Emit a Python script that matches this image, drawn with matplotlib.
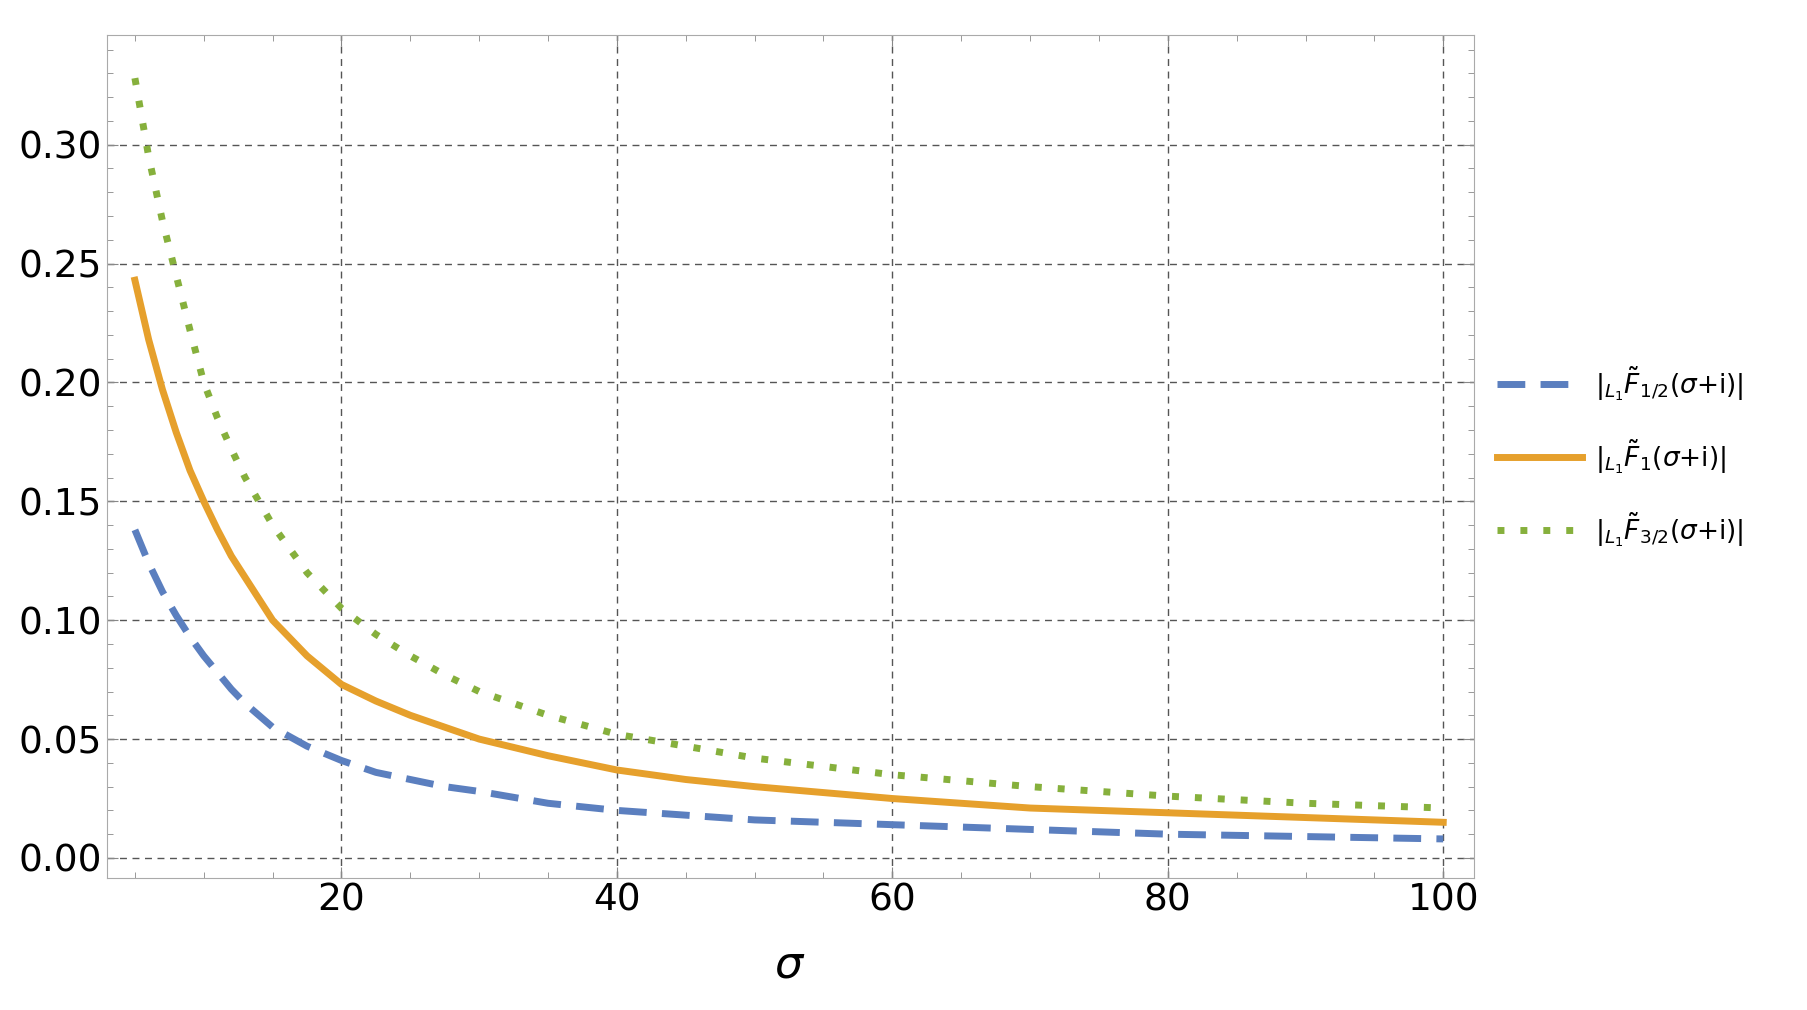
import matplotlib
matplotlib.use("Agg")
import matplotlib.pyplot as plt
from matplotlib.ticker import MultipleLocator

sigma = [5, 6, 7, 8, 9, 10, 11, 12, 13, 15, 17.5, 20, 22.5, 25, 27.5, 30, 35, 40, 45, 50, 60, 70, 80, 90, 100]
f_half = [0.138, 0.124, 0.112, 0.102, 0.093, 0.085, 0.078, 0.071, 0.065, 0.055, 0.047, 0.041, 0.036, 0.033, 0.030, 0.028, 0.023, 0.020, 0.018, 0.016, 0.014, 0.012, 0.010, 0.009, 0.008]
f_one = [0.243, 0.218, 0.197, 0.179, 0.163, 0.150, 0.138, 0.127, 0.118, 0.100, 0.085, 0.073, 0.066, 0.060, 0.055, 0.050, 0.043, 0.037, 0.033, 0.030, 0.025, 0.021, 0.019, 0.017, 0.015]
f_3half = [0.328, 0.295, 0.268, 0.245, 0.222, 0.200, 0.185, 0.172, 0.160, 0.140, 0.120, 0.105, 0.094, 0.085, 0.077, 0.070, 0.060, 0.052, 0.047, 0.042, 0.035, 0.030, 0.026, 0.023, 0.021]
labels = [r'$|_{L_1}\tilde{F}_{1/2}(\sigma$+i)|', r'$|_{L_1}\tilde{F}_{1}(\sigma$+i)|', r'$|_{L_1}\tilde{F}_{3/2}(\sigma$+i)|']

fig = plt.figure(figsize=(18.08, 10.10), dpi=100)
ax = fig.add_axes([0.059, 0.131, 0.756, 0.834])
ax.plot(sigma, f_half, color='#5b7fbf', lw=5, ls=(0, (4, 2.2)), label=labels[0])
ax.plot(sigma, f_one, color='#e6a02c', lw=5, label=labels[1])
ax.plot(sigma, f_3half, color='#86b03c', lw=5, ls=(0, (1, 2.3)), label=labels[2])
ax.set_xlim(2.95, 102.2)
ax.set_ylim(-0.0083, 0.346)
ax.xaxis.set_major_locator(MultipleLocator(20))
ax.xaxis.set_minor_locator(MultipleLocator(5))
ax.yaxis.set_major_locator(MultipleLocator(0.05))
ax.yaxis.set_minor_locator(MultipleLocator(0.01))
ax.yaxis.set_major_formatter(matplotlib.ticker.FormatStrFormatter('%.2f'))
ax.grid(True, which='major', color='#555555', ls=(0, (5, 4)), lw=1)
ax.tick_params(which='both', direction='in', top=True, right=True, labelsize=27, color='#888888')
ax.tick_params(which='major', length=8)
ax.tick_params(which='minor', length=4)
for s in ax.spines.values():
    s.set_color('#aaaaaa')
ax.set_xlabel(r'$\sigma$', fontsize=32, labelpad=18)
ax.legend(loc='center left', bbox_to_anchor=(1.0, 0.5), frameon=False, fontsize=19,
          handlelength=3.2, handletextpad=0.5, labelspacing=1.3)
fig.savefig('out.png')
